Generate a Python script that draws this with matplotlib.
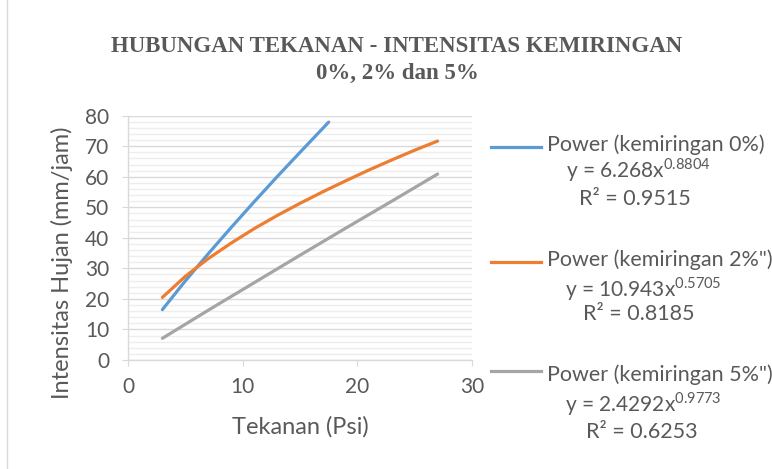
import matplotlib.pyplot as plt
from matplotlib.lines import Line2D
from matplotlib.ticker import MultipleLocator

plt.rcParams['font.family'] = ['Lato', 'DejaVu Sans']
plt.rcParams['mathtext.fontset'] = 'custom'
plt.rcParams['mathtext.rm'] = 'Lato'

# titik-titik dibaca dari kurva trendline power
x_0 = [3, 5, 7, 9, 11, 13, 15, 17.5]
y_0 = [16.5, 25.9, 34.8, 43.4, 51.8, 60.0, 68.0, 77.9]

x_2 = [3, 5, 7, 9, 11, 13, 15, 17, 19, 21, 23, 25, 27]
y_2 = [20.5, 27.4, 33.2, 38.3, 43.0, 47.3, 51.3, 55.1, 58.7, 62.2, 65.5, 68.7, 71.7]

x_5 = [3, 7, 11, 15, 19, 23, 27]
y_5 = [7.1, 16.3, 25.3, 34.3, 43.2, 52.0, 60.9]

labels = ['Power (kemiringan 0%)', 'Power (kemiringan 2%")', 'Power (kemiringan 5%")']
equations = ['y = 6.268x$^{0.8804}$', 'y = 10.943x$^{0.5705}$', 'y = 2.4292x$^{0.9773}$']
r2 = ['R² = 0.9515', 'R² = 0.8185', 'R² = 0.6253']
colors = ['#5B9BD5', '#ED7D31', '#A5A5A5']

txt = '#595959'
W, H = 772, 469
fig = plt.figure(figsize=(W / 100, H / 100), dpi=100)
ax = fig.add_axes([128 / W, 1 - 360 / H, (472 - 128) / W, (360 - 115.7) / H])

for xs, ys, c in zip([x_0, x_2, x_5], [y_0, y_2, y_5], colors):
    ax.plot(xs, ys, color=c, lw=2.3, solid_capstyle='round')

ax.set_xlim(0, 30)
ax.set_ylim(0, 80)
ax.xaxis.set_major_locator(MultipleLocator(10))
ax.yaxis.set_major_locator(MultipleLocator(10))
ax.yaxis.set_minor_locator(MultipleLocator(2))
ax.grid(axis='y', which='major', color='#D9D9D9', lw=1)
ax.grid(axis='y', which='minor', color='#EDEDED', lw=1)
ax.set_axisbelow(True)
for s in ['top', 'right']:
    ax.spines[s].set_visible(False)
for s in ['left', 'bottom']:
    ax.spines[s].set_color('#D9D9D9')
    ax.spines[s].set_linewidth(1)
ax.tick_params(which='major', length=4.5, color='#D9D9D9', labelcolor=txt, labelsize=15)
ax.tick_params(axis='y', pad=9)
ax.tick_params(axis='x', pad=8)
ax.tick_params(which='minor', length=0)

ax.set_xlabel('Tekanan (Psi)', fontsize=17, color=txt)
ax.xaxis.set_label_coords(0.5, (360 - 416) / (360 - 115.7))
fig.text(62 / W, 1 - 263 / H, 'Intensitas Hujan (mm/jam)', rotation=90,
         fontsize=17, color=txt, ha='center', va='center')

fig.text(397 / W, 1 - 47 / H, 'HUBUNGAN TEKANAN - INTENSITAS KEMIRINGAN',
         family='Liberation Serif', weight='bold', fontsize=16.5, color=txt,
         ha='center', va='center')
fig.text(397 / W, 1 - 73 / H, '0%, 2% dan 5%',
         family='Liberation Serif', weight='bold', fontsize=16.5, color=txt,
         ha='center', va='center')

# legenda manual: (garis, baseline teks, baseline persamaan, baseline R2)
rows = [(147, 151, 177, 205), (262, 266, 296, 320), (371, 381, 411, 438)]
eq_x = [638, 643, 643]
r2_x = [635, 639, 642]
for (yl, yt, ye, yr), lab, eq, r, c, ex, rx in zip(rows, labels, equations, r2, colors, eq_x, r2_x):
    fig.add_artist(Line2D([491 / W, 541 / W], [1 - yl / H] * 2, color=c, lw=2.3))
    fig.text(547 / W, 1 - yt / H, lab, fontsize=15.5, color=txt, ha='left', va='baseline')
    fig.text(ex / W, 1 - ye / H, eq, fontsize=15, color=txt, ha='center', va='baseline')
    fig.text(rx / W, 1 - yr / H, r, fontsize=15.5, color=txt, ha='center', va='baseline')

# garis tepi kiri bingkai
fig.add_artist(Line2D([7 / W, 7 / W], [0, 1], color='#D9D9D9', lw=1))

fig.savefig('out.png', dpi=100)
